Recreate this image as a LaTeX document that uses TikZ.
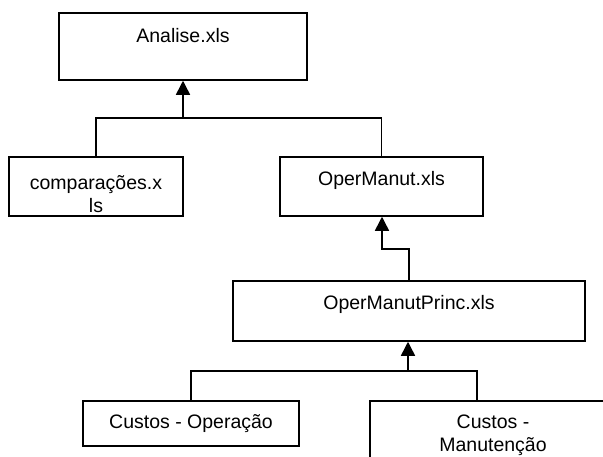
\documentclass[tikz,border=0pt]{standalone}
\usepackage{fontspec}
\setmainfont{Liberation Sans}
\usetikzlibrary{arrows.meta}
\begin{document}
\begin{tikzpicture}[x=1pt,y=-1pt,
  box/.style={draw=black, line width=1.5pt, fill=white, inner sep=0pt},
  txt/.style={anchor=base, inner sep=0pt, align=center, font=\fontsize{19.5}{23}\selectfont},
  conn/.style={draw=black, line width=1.5pt},
  arr/.style={conn, -{Triangle[width=14pt,length=14pt]}}]
\useasboundingbox (0,0) rectangle (603,456);
\clip (0,0) rectangle (603,456);
% boxes
\node[box, minimum width=248pt, minimum height=67pt] (analise) at (183,46.5) {};
\node[box, minimum width=174pt, minimum height=59pt] (comp) at (96,186.5) {};
\node[box, minimum width=203pt, minimum height=59pt] (operm) at (381.5,186.5) {};
\node[box, minimum width=352pt, minimum height=60pt] (princ) at (409,311) {};
\node[box, minimum width=216pt, minimum height=45pt] (co) at (191,423.5) {};
\node[box, minimum width=246pt, minimum height=69pt] (cm) at (493,435.5) {};
% texts (base anchor = baseline of last line)
\node[txt] (analiseT) at (183,42) {Analise.xls};
\node[txt] (compT) at (96,212) {comparações.x\\ls};
\node[txt] (opermT) at (381.5,185) {OperManut.xls};
\node[txt] (princT) at (409,309) {OperManutPrinc.xls};
\node[txt] (coT) at (191,428) {Custos - Operação};
\node[txt] (cmT) at (493,451) {Custos -\\Manutenção};
% connector points
\coordinate (bus1) at (183,118);
\coordinate (e1) at (382,249);
\coordinate (bus2) at (408,371);
\coordinate (cmtop) at (477,401);
% connectors
\draw[conn] (comp.north) |- (bus1) -| (operm.north);
\draw[arr] (bus1) -- (analise.south);
\draw[arr] (princ.north) |- (e1) -- (e1 |- operm.south);
\draw[conn] (co.north) |- (bus2) -| (cmtop);
\draw[arr] (bus2) -- (bus2 |- princ.south);
\end{tikzpicture}
\end{document}
